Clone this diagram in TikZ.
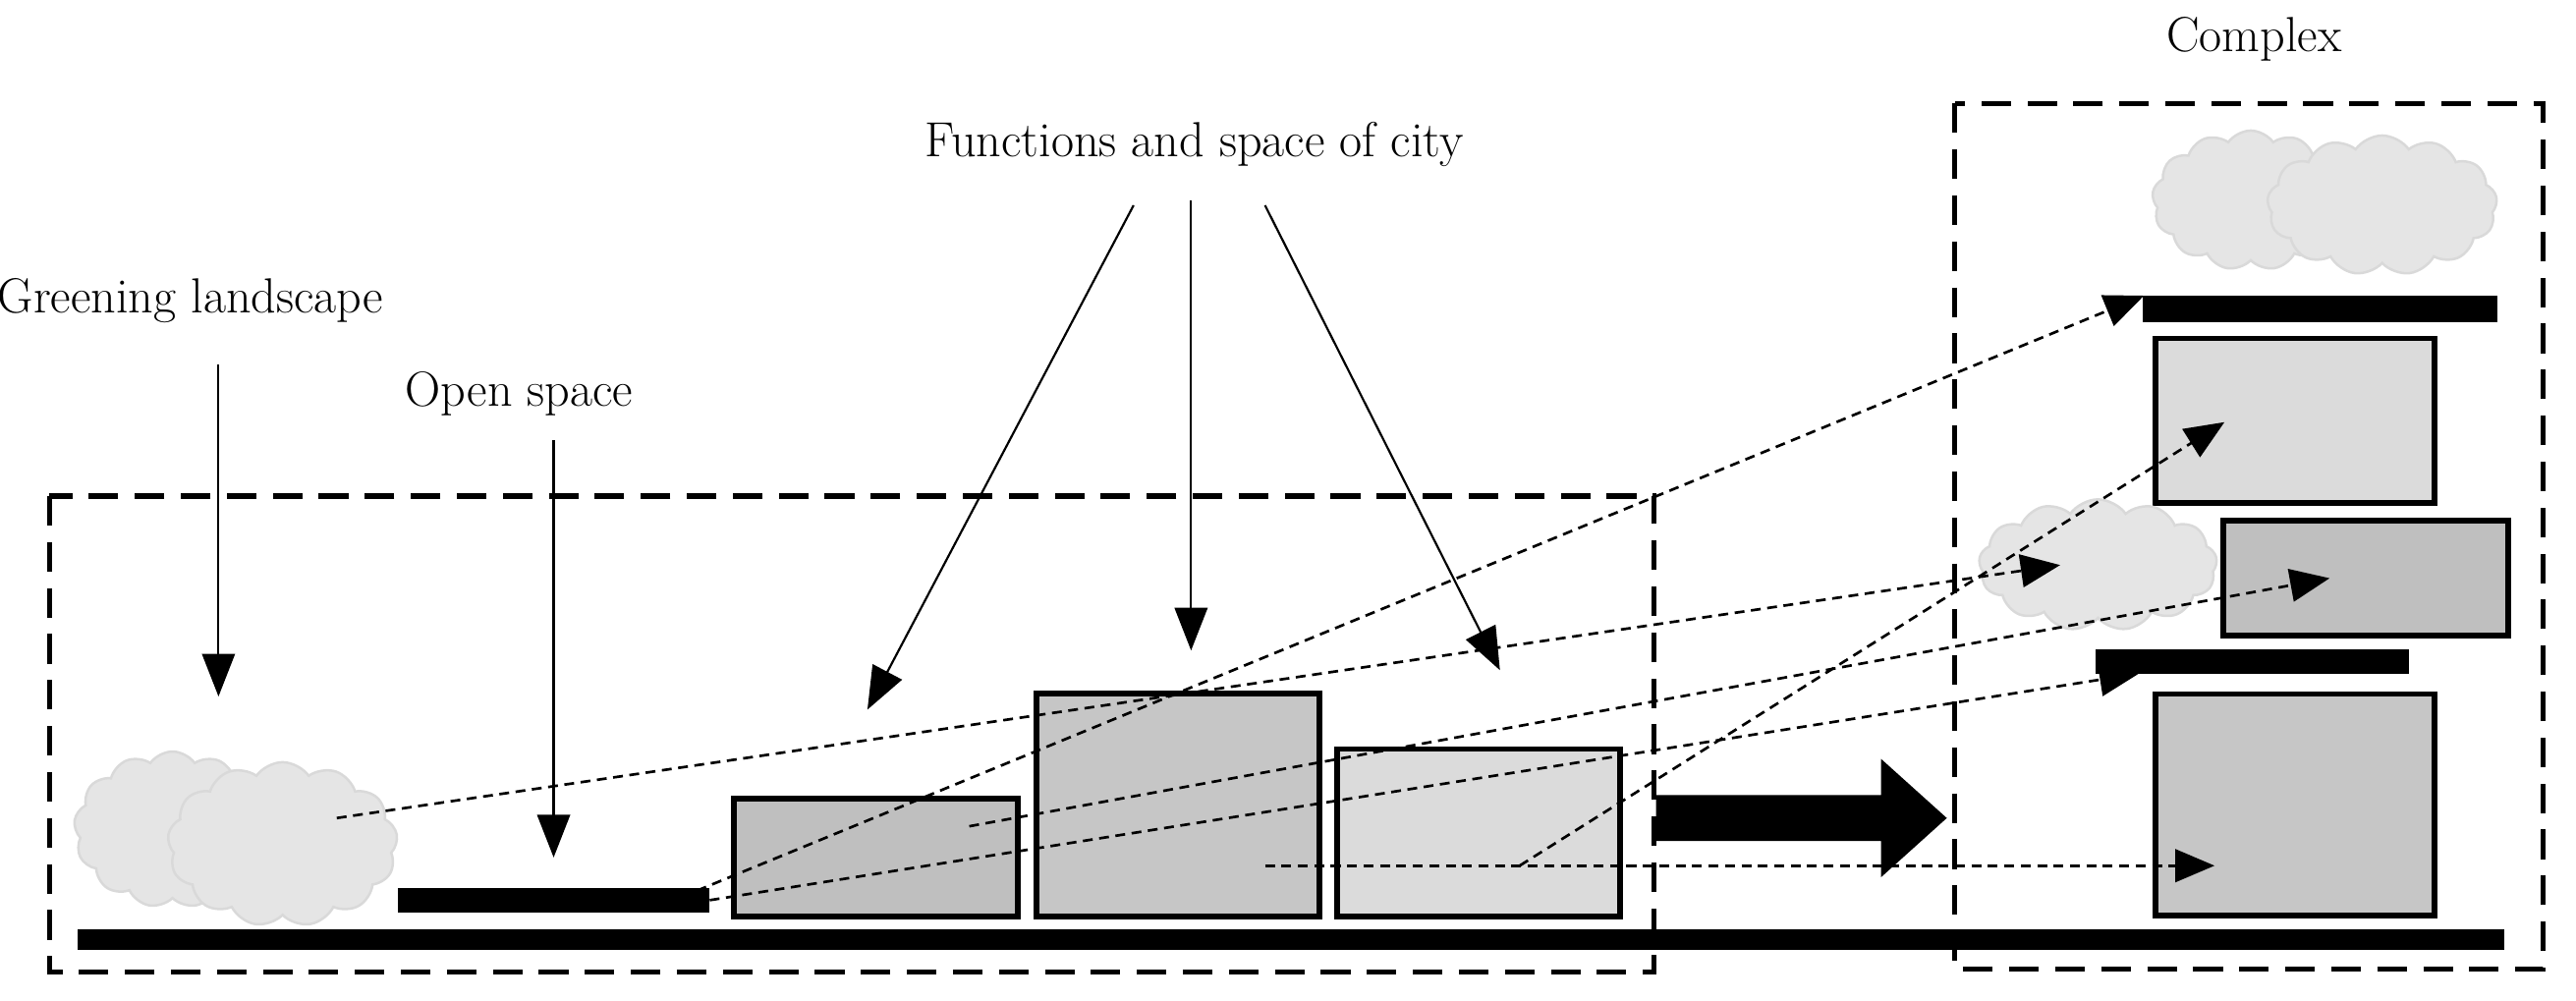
\documentclass[tikz,border=0pt]{standalone}
\usetikzlibrary{shapes.symbols,arrows.meta}
\begin{document}
\begin{tikzpicture}[x=1pt,y=-1pt,
  lbl/.style={font=\fontsize{30}{34}\selectfont,inner sep=0},
  dbox/.style={draw,line width=3pt,dash pattern=on 18pt off 10pt},
  bld/.style={draw,line width=3.5pt,inner sep=0},
  bar/.style={fill=black,inner sep=0},
  cld/.style={cloud,cloud puffs=13,cloud puff arc=110,aspect=1.4,fill=gray!20,draw=gray!30,line width=1.5pt,inner sep=0},
  sarr/.style={line width=1.3pt,-{Triangle[length=26pt,width=20pt]}},
  darr/.style={line width=1.6pt,dash pattern=on 6pt off 4pt,-{Triangle[length=24pt,width=20pt]}}]
\useasboundingbox (0,0) rectangle (1568,609);
% dashed frames
\draw[dbox] (30,302) rectangle (1007,592);
\draw[dbox] (1190,63) rectangle (1548,590);
% ground
\node[bar,minimum width=1477pt,minimum height=13pt] (ground) at (786,572) {};
% left clouds
\node[cld,minimum width=120pt,minimum height=95pt] (c1) at (105,505) {};
\node[cld,minimum width=140pt,minimum height=100pt] (c2) at (172,514) {};
% open space bar
\node[bar,minimum width=190pt,minimum height=15pt] (open) at (337,548) {};
% buildings
\node[bld,fill=gray!50,minimum width=173pt,minimum height=72pt] (dark) at (533,522) {};
\node[bld,fill=gray!50!white!50,fill=gray!45,minimum width=172pt,minimum height=136pt] (mid) at (717,490) {};
\node[bld,fill=gray!28,minimum width=172pt,minimum height=102pt] (light) at (900,507) {};
% big arrow
\fill (1008,484) -- (1145,484) -- (1145,462) -- (1185,498) -- (1145,534) -- (1145,512) -- (1008,512) -- cycle;
% right side
\node[cld,minimum width=120pt,minimum height=85pt] (rc1) at (1370,122) {};
\node[cld,minimum width=140pt,minimum height=85pt] (rc2) at (1450,125) {};
\node[bar,minimum width=216pt,minimum height=16pt] (topbar) at (1412,188) {};
\node[bld,fill=gray!28,minimum width=170pt,minimum height=100pt] (rlight) at (1397,256) {};
\node[cld,minimum width=145pt,minimum height=80pt] (rc3) at (1277,344) {};
\node[bld,fill=gray!50,minimum width=173pt,minimum height=70pt] (rdark) at (1440,352) {};
\node[bar,minimum width=191pt,minimum height=15pt] (midbar) at (1371,403) {};
\node[bld,fill=gray!45,minimum width=170pt,minimum height=135pt] (rmid) at (1397,490) {};
% labels
\node[lbl] (tcomplex) at (1372,24) {Complex};
\node[lbl] (tfunc) at (727,88) {Functions and space of city};
\node[lbl] (tgreen) at (116,183) {Greening landscape};
\node[lbl] (topen) at (316,240) {Open space};
% solid arrows
\coordinate (g1) at (133,222); \coordinate (g2) at (133,424);
\coordinate (o1) at (337,268); \coordinate (o2) at (337,522);
\coordinate (f1a) at (690,125); \coordinate (f1b) at (528,432);
\coordinate (f2a) at (725,122); \coordinate (f2b) at (725,396);
\coordinate (f3a) at (770,125); \coordinate (f3b) at (913,408);
\draw[sarr] (g1) -- (g2);
\draw[sarr] (o1) -- (o2);
\draw[sarr] (f1a) -- (f1b);
\draw[sarr] (f2a) -- (f2b);
\draw[sarr] (f3a) -- (f3b);
% dashed arrows
\coordinate (s1) at (205,498); \coordinate (e1) at (1254,344);
\coordinate (s2) at (415,546); \coordinate (e2) at (1305,180);
\coordinate (s3) at (432,548); \coordinate (e3) at (1302,410);
\coordinate (s4) at (590,503); \coordinate (e4) at (1418,352);
\coordinate (s5) at (925,527); \coordinate (e5) at (1354,257);
\coordinate (s6) at (770,527); \coordinate (e6) at (1348,527);
\draw[darr] (s1) -- (e1);
\draw[darr] (s2) -- (e2);
\draw[darr] (s3) -- (e3);
\draw[darr] (s4) -- (e4);
\draw[darr] (s5) -- (e5);
\draw[darr] (s6) -- (e6);
\end{tikzpicture}
\end{document}
